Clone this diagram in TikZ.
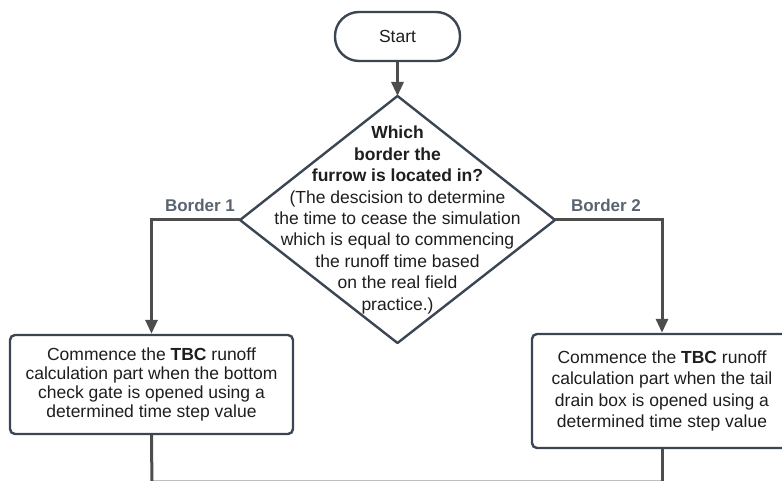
\documentclass[tikz,border=0pt]{standalone}
\usepackage{fontspec}
\setmainfont{Liberation Sans}
\usetikzlibrary{arrows.meta}
\definecolor{shapeline}{HTML}{3B4652}
\definecolor{flowline}{HTML}{4D4D4D}
\definecolor{labeltext}{HTML}{5A6470}
\definecolor{bodytext}{HTML}{1E1E1E}
\tikzset{
  shapebox/.style={draw=shapeline, line width=2.4pt, fill=white, text=bodytext},
  terminal/.style={shapebox, rounded corners=24pt, minimum width=125pt, minimum height=49pt, inner sep=0pt},
  procbox/.style={shapebox, rounded corners=5pt, align=center, inner sep=0pt},
  flow/.style={draw=flowline, line width=3pt},
  arr/.style={flow, -{Triangle[length=14pt,width=12pt]}},
  branchlabel/.style={text=labeltext, font=\bfseries\fontsize{17}{20}\selectfont, inner sep=0pt},
  faint/.style={draw=black!25, line width=1pt}
}
\begin{document}
\begin{tikzpicture}[x=1pt, y=-1pt, font=\fontsize{17.5}{21}\selectfont]
\useasboundingbox (0,0) rectangle (782,481);
\clip (0,0) rectangle (782,481);

% start terminal
\node[terminal] (start) at (397.5,36.5) {Start};

% decision diamond
\coordinate (qt) at (397.5,96);
\coordinate (ql) at (240,220);
\coordinate (qr) at (555,220);
\coordinate (qb) at (397.5,343);
\draw[shapebox, line join=round] (qt) -- (qr) -- (qb) -- (ql) -- cycle;
\node[align=center, text=bodytext, inner sep=0pt, font=\fontsize{17.5}{21.4}\selectfont] (q) at (397.5,220)
  {\textbf{Which}\\ \textbf{border the}\\ \textbf{furrow is located in?}\\
   (The descision to determine\\ the time to cease the simulation\\
   which is equal to commencing\\ the runoff time based\\ on the real field\\ practice.)};

% process boxes
\node[procbox, minimum width=283pt, minimum height=99pt, font=\fontsize{17.5}{19}\selectfont] (b1) at (151.5,384.5)
  {Commence the \textbf{TBC} runoff\\ calculation part when the bottom\\ check gate is opened using a\\ determined time step value};
\node[procbox, minimum width=260pt, minimum height=114pt, font=\fontsize{17.5}{21.5}\selectfont] (b2) at (662,391)
  {Commence the \textbf{TBC} runoff\\ calculation part when the tail\\ drain box is opened using a\\ determined time step value};

% branch labels
\node[branchlabel] (l1) at (200,205) {Border 1};
\node[branchlabel] (l2) at (606,205) {Border 2};

% connectors
\coordinate (e1) at (152,490);
\coordinate (e2) at (662,490);
\coordinate (f1) at (152,480.5);
\coordinate (f2) at (662,480.5);
\draw[faint] (f1) -- (f2);
\draw[arr] (start.south) -- (qt);
\draw[arr] (ql) -| (b1.north);
\draw[arr] (qr) -| (b2.north);
\draw[flow] (b1.south) -- (e1);
\draw[flow] (b2.south) -- (e2);
\end{tikzpicture}
\end{document}
